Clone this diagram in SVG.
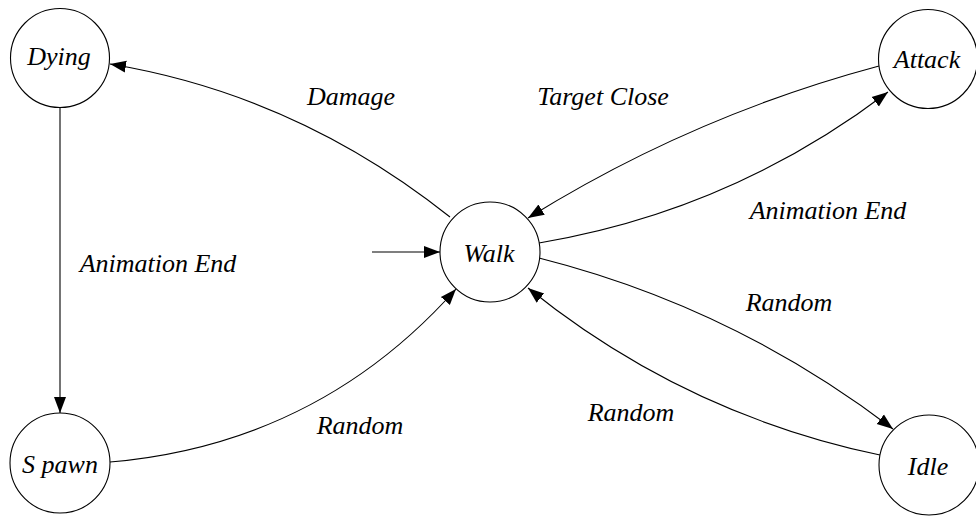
<svg xmlns="http://www.w3.org/2000/svg" width="976" height="516" viewBox="0 0 976 516">
  <defs>
    <marker id="arrow" markerUnits="userSpaceOnUse" markerWidth="17" markerHeight="14" refX="16" refY="7" orient="auto">
      <path d="M0,1 L16,7 L0,13 Z" fill="#000000"/>
    </marker>
  </defs>
  <rect width="976" height="516" fill="#ffffff"/>

  <!-- transitions -->
  <g id="connectors" fill="none" stroke="#000000" stroke-width="1.1" marker-end="url(#arrow)">
    <path d="M60,108 L60,413"/>
    <path d="M450,217 Q297,95 110,64"/>
    <path d="M372,252 L440,252"/>
    <path d="M879,66 Q692,116 528,218"/>
    <path d="M539,243 Q731,211 888,92"/>
    <path d="M539,258 Q733,307 893,429"/>
    <path d="M880,455 Q684,414 528,288"/>
    <path d="M110,462 Q318,444 456,289"/>
  </g>

  <!-- transition labels -->
  <g id="edge-labels">
    <text x="351" y="105" font-family="Liberation Serif" font-style="italic" font-size="26" text-anchor="middle">Damage</text>
    <text x="603" y="105" font-family="Liberation Serif" font-style="italic" font-size="26" text-anchor="middle">Target Close</text>
    <text x="828" y="219" font-family="Liberation Serif" font-style="italic" font-size="26" text-anchor="middle">Animation End</text>
    <text x="158" y="272" font-family="Liberation Serif" font-style="italic" font-size="26" text-anchor="middle">Animation End</text>
    <text x="789" y="311" font-family="Liberation Serif" font-style="italic" font-size="26" text-anchor="middle">Random</text>
    <text x="631" y="421" font-family="Liberation Serif" font-style="italic" font-size="26" text-anchor="middle">Random</text>
    <text x="360" y="434" font-family="Liberation Serif" font-style="italic" font-size="26" text-anchor="middle">Random</text>
  </g>

  <!-- states -->
  <g id="dying">
    <circle cx="60" cy="58" r="49.5" fill="#ffffff" stroke="#000000" stroke-width="1.1"/>
    <text x="59" y="65" font-family="Liberation Serif" font-style="italic" font-size="26" text-anchor="middle">Dying</text>
  </g>
  <g id="attack">
    <circle cx="928" cy="59" r="49.5" fill="#ffffff" stroke="#000000" stroke-width="1.1"/>
    <text x="927" y="68" font-family="Liberation Serif" font-style="italic" font-size="26" text-anchor="middle">Attack</text>
  </g>
  <g id="walk">
    <circle cx="490" cy="252" r="50" fill="#ffffff" stroke="#000000" stroke-width="1.1"/>
    <text x="489" y="262" font-family="Liberation Serif" font-style="italic" font-size="26" text-anchor="middle">Walk</text>
  </g>
  <g id="spawn">
    <circle cx="60" cy="463" r="50" fill="#ffffff" stroke="#000000" stroke-width="1.1"/>
    <text x="60" y="473" font-family="Liberation Serif" font-style="italic" font-size="26" text-anchor="middle">S pawn</text>
  </g>
  <g id="idle">
    <circle cx="929" cy="465" r="50" fill="#ffffff" stroke="#000000" stroke-width="1.1"/>
    <text x="928" y="475" font-family="Liberation Serif" font-style="italic" font-size="26" text-anchor="middle">Idle</text>
  </g>
</svg>
